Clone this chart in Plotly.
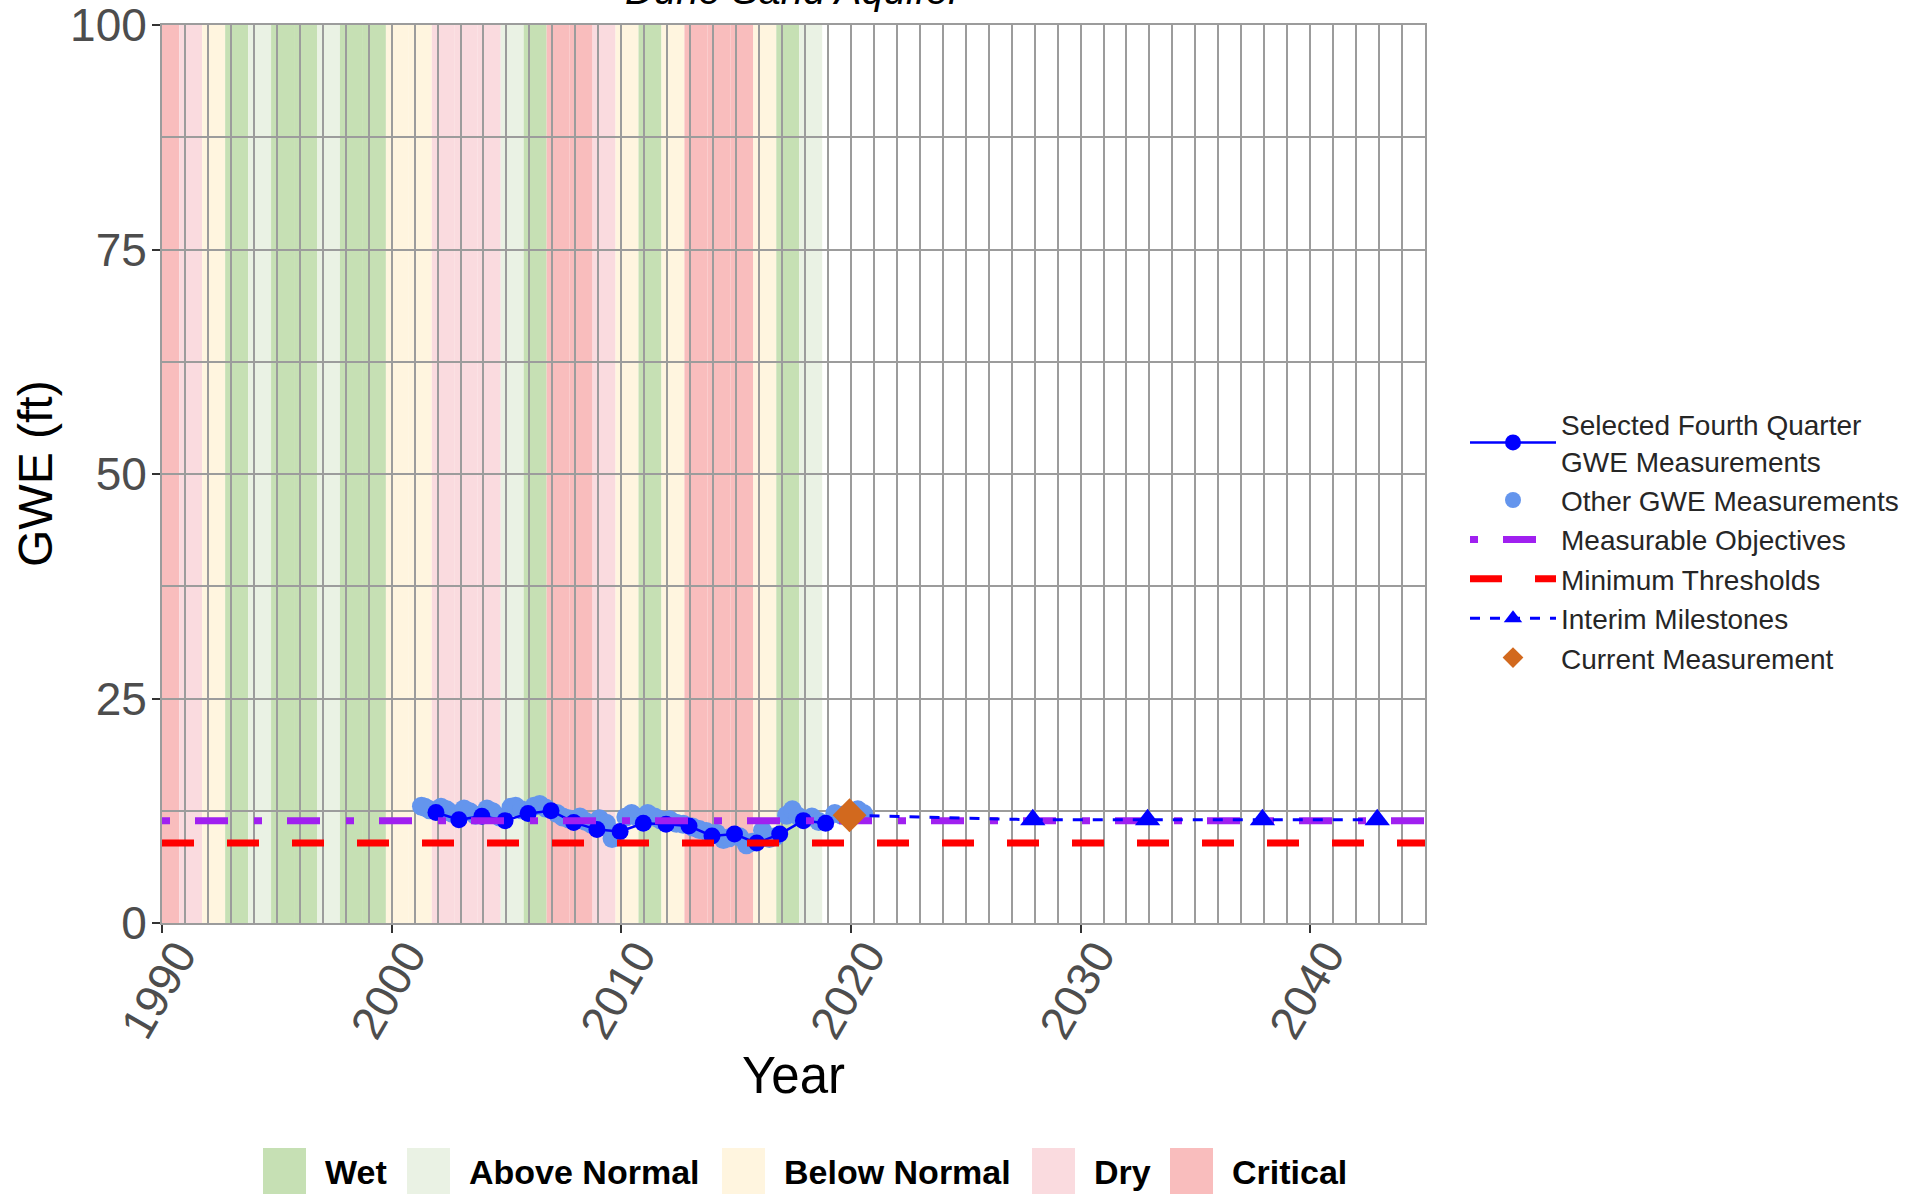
import plotly.graph_objects as go

# ---------------- data ----------------
water_years = list(range(1990, 2019))
water_year_types = ["Critical", "Dry", "Below Normal", "Wet", "Above Normal", "Wet", "Wet",
                    "Above Normal", "Wet", "Wet", "Below Normal", "Below Normal", "Dry", "Dry",
                    "Dry", "Above Normal", "Wet", "Critical", "Critical", "Dry", "Below Normal",
                    "Wet", "Below Normal", "Critical", "Critical", "Critical", "Below Normal",
                    "Wet", "Above Normal"]

type_order = ["Wet", "Above Normal", "Below Normal", "Dry", "Critical"]
type_colors = {"Wet": "#C6E0B4", "Above Normal": "#EAF2E4", "Below Normal": "#FFF5DF",
               "Dry": "#FADBDF", "Critical": "#F9BDBD"}

selected_years = [2001.93, 2002.93, 2003.93, 2004.94, 2005.94, 2006.94, 2007.93, 2008.94,
                  2009.95, 2010.96, 2011.95, 2012.95, 2013.95, 2014.93, 2015.90, 2016.90,
                  2017.93, 2018.90]
selected_gwe = [12.3, 11.5, 11.9, 11.4, 12.2, 12.5, 11.2, 10.4, 10.2, 11.1, 11.0, 10.8,
                9.7, 9.9, 8.9, 9.9, 11.4, 11.1]

other_years = [2001.30, 2001.45, 2001.65, 2002.15, 2002.40, 2002.65, 2003.15, 2003.40, 2003.65,
               2004.15, 2004.40, 2004.70, 2005.20, 2005.40, 2005.65, 2006.20, 2006.45, 2006.70,
               2007.20, 2007.45, 2007.70, 2008.20, 2008.45, 2008.70, 2009.05, 2009.35, 2009.60,
               2009.75, 2010.20, 2010.45, 2010.70, 2011.15, 2011.45, 2011.70, 2012.10, 2012.40,
               2012.70, 2013.10, 2013.40, 2013.70, 2014.15, 2014.45, 2014.70, 2015.15, 2015.45,
               2015.70, 2016.15, 2016.45, 2016.70, 2017.20, 2017.45, 2017.70, 2018.30, 2018.60,
               2019.30, 2019.60, 2020.30, 2020.55]
other_gwe = [13.0, 12.9, 12.6, 12.9, 12.6, 12.2, 12.7, 12.4, 12.0,
             12.7, 12.4, 11.8, 12.9, 13.0, 12.6, 13.0, 13.2, 12.8,
             12.2, 11.8, 11.6, 11.8, 11.3, 11.0, 11.6, 11.1, 9.4,
             9.6, 11.8, 12.2, 11.8, 12.2, 11.8, 11.5, 11.5, 11.1,
             11.0, 10.7, 10.4, 10.2, 10.0, 9.3, 9.5, 9.6, 8.7,
             9.0, 10.3, 9.4, 9.6, 12.0, 12.6, 11.9, 11.8, 11.3,
             12.2, 12.0, 12.6, 12.2]

current_year = [2019.94]
current_gwe = [12.0]

milestone_years = [2027.92, 2032.92, 2037.92, 2042.92]
milestone_gwe = [11.5, 11.5, 11.5, 11.5]

mo_years = [1990, 2045]
mo_gwe = [11.4, 11.4]
mt_years = [1990, 2045]
mt_gwe = [8.9, 8.9]

x_range = [1990, 2045]
y_range = [0, 100]
x_ticks = [1990, 2000, 2010, 2020, 2030, 2040]
y_ticks = [0, 25, 50, 75, 100]

# ---------------- layout geometry ----------------
W, H = 1915, 1194
L, R, T, B = 162, 1425, 25, 923
pw, ph = R - L, B - T


def px_x(p):
    return (p - L) / pw


def px_y(p):
    return (B - p) / ph


FONT = "Arial, Liberation Sans, sans-serif"
GRID = "#9C9C9C"

fig = go.Figure()

# water-year bands (Oct 1 - Sep 30)
shapes = []
for wy, t in zip(water_years, water_year_types):
    shapes.append(dict(type="rect", xref="x", yref="y", x0=wy - 0.25, x1=wy + 0.75,
                       y0=y_range[0], y1=y_range[1], fillcolor=type_colors[t],
                       line=dict(width=0), layer="below"))

# traces
fig.add_trace(go.Scatter(x=other_years, y=other_gwe, mode="markers",
                         marker=dict(color="#6495ED", size=19),
                         name="Other GWE Measurements", legendrank=2, legendgroup="g2"))
fig.add_trace(go.Scatter(x=selected_years, y=selected_gwe, mode="lines+markers",
                         line=dict(color="#0000FF", width=2.5),
                         marker=dict(color="#0000FF", size=17),
                         name="Selected Fourth Quarter<br>GWE Measurements", legendrank=1,
                         legendgroup="g1"))
fig.add_trace(go.Scatter(x=mo_years, y=mo_gwe, mode="lines",
                         line=dict(color="#A020F0", width=7, dash="8px,25px,33px,26px"),
                         name="Measurable Objectives", legendrank=3, legendgroup="g3"))
fig.add_trace(go.Scatter(x=mt_years, y=mt_gwe, mode="lines",
                         line=dict(color="#FF0000", width=7, dash="32px,33px"),
                         name="Minimum Thresholds", legendrank=4, legendgroup="g4"))
fig.add_trace(go.Scatter(x=current_year + milestone_years[:1], y=current_gwe + milestone_gwe[:1],
                         mode="lines", line=dict(color="#0000FF", width=3, dash="10px,10px"),
                         showlegend=False, hoverinfo="skip", legendgroup="g5"))
fig.add_trace(go.Scatter(x=milestone_years, y=milestone_gwe, mode="lines+markers",
                         line=dict(color="#0000FF", width=3, dash="10px,10px"),
                         marker=dict(color="#0000FF", symbol="triangle-up", size=22),
                         name="Interim Milestones", legendrank=5, legendgroup="g5"))
fig.add_trace(go.Scatter(x=current_year, y=current_gwe, mode="markers",
                         marker=dict(color="#D2691E", symbol="diamond", size=26),
                         name="Current Measurement", legendrank=6, legendgroup="g6"))

# bottom water-year-type legend (keys + labels)
key_left = [263, 407, 722, 1032, 1170]
annotations = []
for t, kx in zip(type_order, key_left):
    shapes.append(dict(type="rect", xref="paper", yref="paper",
                       x0=px_x(kx), x1=px_x(kx + 43), y0=px_y(1200), y1=px_y(1148),
                       fillcolor=type_colors[t], line=dict(width=0)))
    annotations.append(dict(xref="paper", yref="paper", x=px_x(kx + 60), y=px_y(1172),
                            xanchor="left", yanchor="middle", showarrow=False,
                            text="<b>" + t + "</b>",
                            font=dict(family=FONT, size=34, color="#000000")))

annotations.append(dict(xref="paper", yref="paper", x=0.5, y=px_y(14), xanchor="center",
                        yanchor="bottom", showarrow=False, text="<i>Dune Sand Aquifer</i>",
                        font=dict(family=FONT, size=40, color="#000000")))

# y-axis title
annotations.append(dict(xref="paper", yref="paper", x=px_x(35), y=0.5, xanchor="center",
                        yanchor="middle", showarrow=False, text="GWE (ft)", textangle=-90,
                        font=dict(family=FONT, size=48, color="#000000")))

fig.update_layout(
    width=W, height=H,
    margin=dict(l=L, r=W - R, t=T, b=H - B, pad=0, autoexpand=False),
    paper_bgcolor="white", plot_bgcolor="white",
    font=dict(family=FONT),
    shapes=shapes, annotations=annotations,
    legend=dict(x=px_x(1465), y=px_y(541), xanchor="left", yanchor="middle",
                font=dict(family=FONT, size=28, color="#262626"),
                bgcolor="rgba(0,0,0,0)", traceorder="grouped", tracegroupgap=0,
                itemwidth=86),
    showlegend=True,
)

fig.update_xaxes(
    automargin=False,
    range=x_range, tickmode="array", tickvals=x_ticks, ticktext=[str(v) for v in x_ticks],
    tickangle=-60, tickfont=dict(family=FONT, size=46, color="#4D4D4D"),
    ticks="outside", ticklen=8, tickwidth=2, tickcolor="#333333",
    ticklabelshift=16, ticklabelstandoff=-23, ticklabeloverflow="allow",
    showgrid=True, gridcolor=GRID, gridwidth=2, zeroline=False,
    showline=True, linecolor=GRID, linewidth=2, mirror=True,
    minor=dict(dtick=1, tick0=1990, showgrid=True, gridcolor=GRID, gridwidth=2, ticklen=0),
    title=dict(text="Year", font=dict(family=FONT, size=51, color="#000000"), standoff=5),
)
fig.update_yaxes(
    automargin=False,
    range=y_range, tickmode="array", tickvals=y_ticks, ticktext=[str(v) for v in y_ticks],
    tickfont=dict(family=FONT, size=46, color="#4D4D4D"),
    ticks="outside", ticklen=8, tickwidth=2, tickcolor="#333333", ticklabelstandoff=-4,
    ticklabeloverflow="allow",
    showgrid=True, gridcolor=GRID, gridwidth=2, zeroline=False,
    showline=True, linecolor=GRID, linewidth=2, mirror=True,
    minor=dict(dtick=12.5, tick0=0, showgrid=True, gridcolor=GRID, gridwidth=2, ticklen=0),
)

fig.write_html("out.html")
